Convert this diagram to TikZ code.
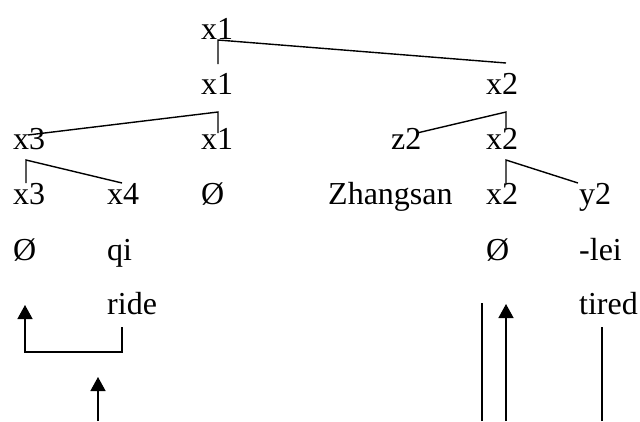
\documentclass[tikz,border=0pt]{standalone}
\usepackage{fontspec}
\setmainfont{Liberation Serif}
\usetikzlibrary{arrows.meta}
\begin{document}
\begin{tikzpicture}[x=1pt,y=-1pt,
  lbl/.style={anchor=base west,inner sep=0pt,font=\fontsize{32}{38}\selectfont},
  br/.style={line width=1.4pt},
  up/.style={line width=1.4pt,-{Triangle[length=14pt,width=15pt]}}]
\useasboundingbox (0,0) rectangle (640,421);
% row 1
\node[lbl] (a1) at (201,39) {x1};
% row 2
\node[lbl] (b1) at (201,94) {x1};
\node[lbl] (b2) at (486,94) {x2};
% row 3
\node[lbl] (c1) at (13,149) {x3};
\node[lbl] (c2) at (201,149) {x1};
\node[lbl] (c3) at (391,149) {z2};
\node[lbl] (c4) at (486,149) {x2};
% row 4
\node[lbl] (d1) at (13,204) {x3};
\node[lbl] (d2) at (107,204) {x4};
\node[lbl] (d3) at (201,204) {Ø};
\node[lbl] (d4) at (328,204) {Zhangsan};
\node[lbl] (d5) at (486,204) {x2};
\node[lbl] (d6) at (579,204) {y2};
% row 5
\node[lbl] (e1) at (13,260) {Ø};
\node[lbl] (e2) at (107,260) {qi};
\node[lbl] (e3) at (486,260) {Ø};
\node[lbl] (e4) at (579,260) {-lei};
% row 6
\node[lbl] (f1) at (107,314) {ride};
\node[lbl] (f2) at (579,314) {tired};
% branch coordinates
\coordinate (pa) at (218,40);
\coordinate (pa1) at (218,64);
\coordinate (pa2) at (506,63);
\coordinate (pb) at (218,112);
\coordinate (pb1) at (218,133);
\coordinate (pb2) at (28,135);
\coordinate (pc) at (26,160);
\coordinate (pc1) at (26,183);
\coordinate (pc2) at (122,183);
\coordinate (pd) at (506,112);
\coordinate (pd1) at (506,128);
\coordinate (pd2) at (417,133);
\coordinate (pe) at (506,160);
\coordinate (pe1) at (506,183);
\coordinate (pe2) at (578,183);
\draw[br] (pa1) -- (pa) -- (pa2);
\draw[br] (pb1) -- (pb) -- (pb2);
\draw[br] (pc1) -- (pc) -- (pc2);
\draw[br] (pd1) -- (pd) -- (pd2);
\draw[br] (pe1) -- (pe) -- (pe2);
% bottom connectors
\coordinate (q1) at (25,305);
\coordinate (q2) at (25,352);
\coordinate (q3) at (122,352);
\coordinate (q4) at (122,327);
\draw[up] (q4) -- (q3) -- (q2) -- (q1);
\coordinate (r1) at (98,421);
\coordinate (r2) at (98,377);
\draw[up] (r1) -- (r2);
\coordinate (s1) at (482,421);
\coordinate (s2) at (482,303);
\draw[br] (s1) -- (s2);
\coordinate (t1) at (506,421);
\coordinate (t2) at (506,304);
\draw[up] (t1) -- (t2);
\coordinate (u1) at (602,421);
\coordinate (u2) at (602,327);
\draw[br] (u1) -- (u2);
\end{tikzpicture}
\end{document}
